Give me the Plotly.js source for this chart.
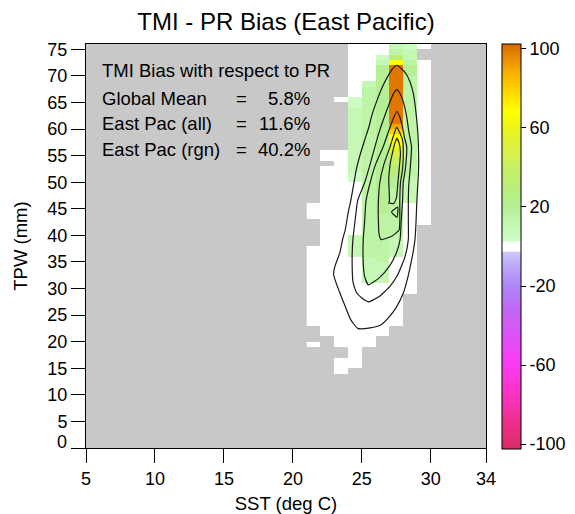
<!DOCTYPE html>
<html>
<head>
<meta charset="utf-8">
<script src="https://cdn.plot.ly/plotly-3.0.1.min.js"></script>
<style>
  html, body { margin: 0; padding: 0; background: #ffffff; }
  #chart { width: 575px; height: 514px; }
</style>
</head>
<body>
<div id="chart"></div>
<script>
// ---- Bias grid -------------------------------------------------------------
// One string per 1-mm TPW bin, listed from the 75-76 mm bin down to 0-1 mm.
// One character per 1 degC SST bin, the first column being 21-22 degC.
// '.' = no samples, other characters are bias levels (see codes below).
const sstFirstBin = 21;
const biasRows = [
  "...000210.", // 75
  "...00032..", // 74
  "...00152..", // 73
  "...002930.", // 72
  "...004C40.", // 71
  "...004C40.", // 70
  "...004C30.", // 69
  "...024C30.", // 68
  "...034C30.", // 67
  "...034C30.", // 66
  "..0134C30.", // 65
  "...134C30.", // 64
  "...234C30.", // 63
  "...234C30.", // 62
  "...234C30.", // 61
  "...234B30.", // 60
  "...234A30.", // 59
  "...234930.", // 58
  "...234930.", // 57
  "...234830.", // 56
  ".00234730.", // 55
  ".00234630.", // 54
  "..0234630.", // 53
  ".00234530.", // 52
  ".00134530.", // 51
  ".00134420.", // 50
  ".00034420.", // 49
  ".00034320.", // 48
  ".00034320.", // 47
  ".00034320.", // 46
  "000034300.", // 45
  "000034300.", // 44
  "000033300.", // 43
  ".00033300.", // 42
  ".0003330..", // 41
  ".0003330..", // 40
  ".0023320..", // 39
  ".0023320..", // 38
  "00023320..", // 37
  "00023320..", // 36
  "00002300..", // 35
  "00002200..", // 34
  "00002200..", // 33
  "00002200..", // 32
  "00002200..", // 31
  "00000000..", // 30
  "00000000..", // 29
  "0000000...", // 28
  "0000000...", // 27
  "0000000...", // 26
  "0000000...", // 25
  "0000000...", // 24
  "0000000...", // 23
  ".00000....", // 22
  ".00000....", // 21
  "..000.....", // 20
  "0.000.....", // 19
  "...0......", // 18
  "...0......", // 17
  "..00......", // 16
  "..00......", // 15
  "..0.......", // 14
  "..........", // 13
  "..........", // 12
  "..........", // 11
  "..........", // 10
  "..........", // 9
  "..........", // 8
  "..........", // 7
  "..........", // 6
  "..........", // 5
  "..........", // 4
  "..........", // 3
  "..........", // 2
  "..........", // 1
  ".........."  // 0
];
// Bias level (%) for each grid character
const biasCodeChars  = ["0", "1", "2", "3", "4", "5", "6", "7", "8", "9", "A", "B", "C"];
const biasCodeValues = [  0,   5,  10,  15,  20,  30,  40,  50,  60,  68,  80,  90, 100];

// ---- Sample-density contours (SST degC, TPW mm), outermost first ----------
const contour1Sst = [27.53,27.85,28.2,28.5,28.73,28.88,28.98,29.07,29.1,29.12,29.1,29.02,28.97,28.92,28.85,28.72,28.6,28.35,28.0,27.55,27.0,26.4,25.6,24.7,24.2,23.8,23.4,22.95,23.05,23.4,23.6,23.8,24.0,24.2,24.4,24.6,24.9,25.2,25.5,25.75,26.1,26.5,26.9,27.25,27.53];
const contour1Tpw = [72.0,71.4,70.4,68.8,66.7,64.05,61.7,58.8,56.7,53.9,51.7,48.0,45.4,42.1,39.2,36.9,35.3,32.3,29.1,26.7,24.7,23.2,22.6,22.5,24.1,26.6,29.2,32.6,34.2,36.7,39.2,41.1,44.2,46.6,49.5,52.4,55.4,57.9,60.3,62.8,65.4,68.0,70.0,71.4,72.0];
const contour2Sst = [27.53,27.8,28.05,28.25,28.42,28.6,28.5,28.4,28.37,28.37,28.37,28.13,27.6,27.0,26.2,25.47,25.0,24.6,24.35,24.3,24.3,24.35,24.5,24.7,25.2,25.6,25.95,26.3,26.7,27.05,27.3,27.53];
const contour2Tpw = [67.4,66.5,64.7,62.3,59.3,56.7,52.4,49.5,46.5,42.6,39.2,36.0,32.6,30.3,28.4,27.5,28.2,29.3,31.3,33.8,36.7,39.2,42.6,46.6,49.9,53.4,56.7,59.8,62.8,65.2,66.7,67.4];
const contour3Sst = [27.53,27.75,27.95,28.1,28.25,28.15,28.0,27.95,27.85,27.77,27.5,27.0,26.3,25.47,25.2,25.1,25.1,25.2,25.3,25.6,26.0,26.55,26.9,27.25,27.53];
const contour3Tpw = [63.3,62.3,60.3,58.3,56.7,52.4,49.9,46.5,42.6,39.2,36.7,34.2,32.1,30.7,32.3,34.7,39.2,42.6,46.5,49.9,53.4,56.7,59.3,61.8,63.3];
const contour4Sst = [27.53,27.75,27.95,28.0,27.95,27.8,27.75,27.75,27.7,27.2,26.4,26.25,26.2,26.2,26.3,26.6,27.05,27.3,27.53];
const contour4Tpw = [60.3,59.3,57.9,56.7,52.4,49.9,46.5,42.6,41.0,39.9,39.2,40.2,42.6,46.5,49.9,53.4,56.7,58.8,60.3];
const contour5Sst = [27.53,27.7,27.8,27.7,27.6,27.5,27.3,26.95,27.0,26.95,27.05,27.25,27.4,27.53];
const contour5Tpw = [58.25,57.4,55.4,52.4,49.5,47.0,46.0,46.1,46.5,50.5,53.4,55.9,57.4,58.25];
const contour6Sst = [27.15,27.6,27.55,27.15];
const contour6Tpw = [44.4,45.3,43.4,44.4];

// ---- Summary statistics ----------------------------------------------------
const statHeader = "TMI Bias with respect to PR";
const statLabels = ["Global Mean", "East Pac (all)", "East Pac (rgn)"];
const statValues = [5.8, 11.6, 40.2];

// ---- Axis ticks ------------------------------------------------------------
const sstTicks = [5, 10, 15, 20, 25, 30, 34];
const tpwTicks = [0, 5, 10, 15, 20, 25, 30, 35, 40, 45, 50, 55, 60, 65, 70, 75];
const biasTicks = [-100, -60, -20, 20, 60, 100];

// Decode the grid into a z matrix (row 0 = lowest TPW bin)
const z = biasRows.slice().reverse().map(row =>
  row.split("").map(ch => {
    const k = biasCodeChars.indexOf(ch);
    return k < 0 ? null : biasCodeValues[k];
  })
);

// Colour scale over -102.5..102.5 with a white band around zero
const zLo = -102.5, zHi = 102.5;
const stops = [
  [-102.5, "#d92b66"], [-90, "#ee2e88"], [-75, "#fb32c4"], [-60, "#fb3af2"],
  [-45, "#de52f6"], [-33, "#c266f4"], [-20, "#ad86f6"], [-10, "#bbaafa"],
  [-2.6, "#cacbff"], [-2.5, "#ffffff"], [2.5, "#ffffff"], [2.6, "#d2fccb"],
  [10, "#c4f8b4"], [20, "#b6f096"], [30, "#b9ee7a"], [40, "#c9f062"],
  [50, "#dcf242"], [60, "#ecf51c"], [68, "#ffff00"], [75, "#ffe600"],
  [80, "#ffd000"], [88, "#f7af00"], [95, "#eb8e00"], [102.5, "#dc6a00"]
];
const colorscale = stops.map(s => [(s[0] - zLo) / (zHi - zLo), s[1]]);

const FONT = "Liberation Sans, Arial, Helvetica, sans-serif";

const traces = [{
  type: "heatmap",
  z: z,
  x0: sstFirstBin + 0.5, dx: 1,
  y0: 0.5, dy: 1,
  zmin: zLo, zmax: zHi,
  colorscale: colorscale,
  zsmooth: false,
  hoverongaps: false,
  colorbar: {
    x: 1.04, xanchor: "left", xpad: 0,
    y: 1, yanchor: "top", ypad: 0,
    len: 405, lenmode: "pixels",
    thickness: 19, thicknessmode: "pixels",
    outlinecolor: "#000000", outlinewidth: 1,
    tickvals: biasTicks, ticktext: biasTicks.map(String),
    ticks: "outside", ticklen: 5, tickcolor: "#000000",
    tickfont: { family: FONT, size: 18, color: "#000000" }
  }
}];

const contourSets = [
  [contour1Sst, contour1Tpw], [contour2Sst, contour2Tpw], [contour3Sst, contour3Tpw],
  [contour4Sst, contour4Tpw], [contour5Sst, contour5Tpw], [contour6Sst, contour6Tpw]
];
contourSets.forEach(c => traces.push({
  type: "scatter", mode: "lines",
  x: c[0], y: c[1],
  line: { color: "#1a1a1a", width: 1.2, shape: "spline", smoothing: 0.5 },
  hoverinfo: "skip", showlegend: false
}));

const textFont = { family: FONT, size: 18.5, color: "#000000" };

// Statistics block in the upper left of the plot
const rowY = [71.0, 65.8, 61.0, 56.1];
const annotations = [{
  text: statHeader, x: 6.0, y: rowY[0], xref: "x", yref: "y",
  xanchor: "left", yanchor: "middle", showarrow: false, font: textFont
}];
statLabels.forEach((lab, i) => {
  const common = { xref: "x", yref: "y", y: rowY[i + 1], yanchor: "middle", showarrow: false, font: textFont };
  annotations.push(Object.assign({ text: lab, x: 6.0, xanchor: "left" }, common));
  annotations.push(Object.assign({ text: "=", x: 16.25, xanchor: "center" }, common));
  annotations.push(Object.assign({ text: statValues[i].toFixed(1) + "%", x: 21.4, xanchor: "right" }, common));
});
// The zero label on the TPW axis sits a little above its tick
annotations.push({
  text: String(tpwTicks[0]), xref: "paper", yref: "y", x: -0.043, y: 1.2,
  xanchor: "right", yanchor: "middle", showarrow: false,
  font: { family: FONT, size: 18, color: "#000000" }
});

const layout = {
  width: 575, height: 514,
  margin: { l: 86, r: 89, t: 44, b: 66, pad: 0, autoexpand: false },
  paper_bgcolor: "#ffffff",
  plot_bgcolor: "#c8c8c8",
  showlegend: false,
  title: {
    text: "TMI - PR Bias (East Pacific)",
    font: { family: FONT, size: 24, color: "#000000" },
    x: 0.5, xref: "paper", xanchor: "center",
    y: 20, yref: "container", yanchor: "middle"
  },
  xaxis: {
    range: [5, 34], tickvals: sstTicks, ticktext: sstTicks.map(String),
    showgrid: false, zeroline: false,
    showline: true, linecolor: "#000000", linewidth: 1, mirror: true,
    ticks: "outside", ticklen: 14, tickcolor: "#000000",
    tickfont: { family: FONT, size: 18, color: "#000000" },
    title: { text: "SST (deg C)", font: textFont, standoff: 9 },
    automargin: false
  },
  yaxis: {
    range: [0, 76], tickvals: tpwTicks,
    ticktext: tpwTicks.map((v, i) => i === 0 ? "" : String(v)),
    showgrid: false, zeroline: false,
    showline: true, linecolor: "#000000", linewidth: 1, mirror: true,
    ticks: "outside", ticklen: 14, tickcolor: "#000000",
    tickfont: { family: FONT, size: 18, color: "#000000" },
    title: { text: "TPW (mm)", font: textFont, standoff: 14 },
    automargin: false
  },
  annotations: annotations
};

Plotly.newPlot("chart", traces, layout, { displayModeBar: false, staticPlot: true });
</script>
</body>
</html>
